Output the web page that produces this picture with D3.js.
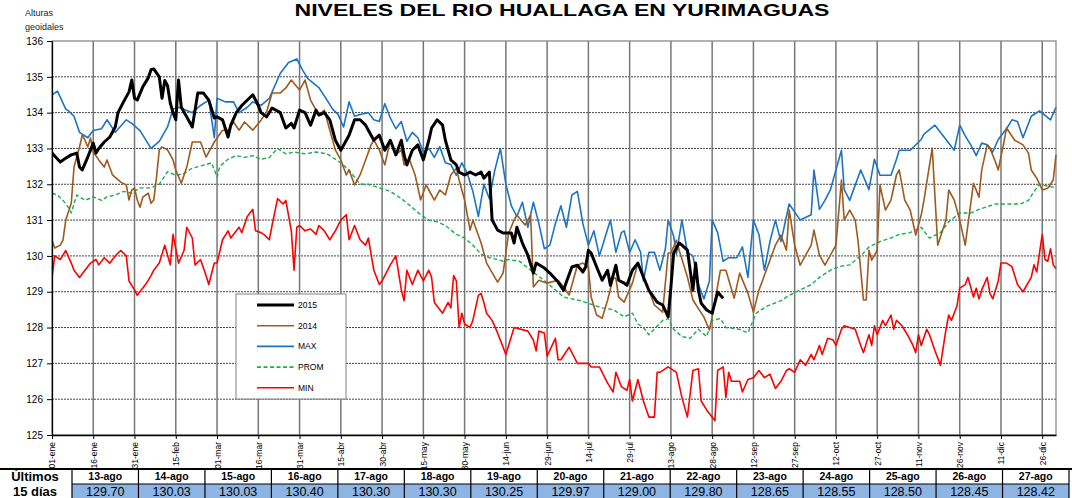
<!DOCTYPE html>
<html>
<head>
<meta charset="utf-8">
<script src="https://cdn.jsdelivr.net/npm/d3@7"></script>
<style>
body { margin: 0; background: #fff; }
svg { display: block; }
text { font-family: Arial, "Liberation Sans", sans-serif; }
</style>
</head>
<body>
<div id="chart"></div>
<script>
// x = dia del año (0 = 01-ene, año bisiesto), y = altura geoidal (m)
var tickDays = d3.range(0, 361, 15);
var tickLabels = ["01-ene","16-ene","31-ene","15-feb","01-mar","16-mar","31-mar","15-abr","30-abr","15-may",
	"30-may","14-jun","29-jun","14-jul","29-jul","13-ago","28-ago","12-sep","27-sep","12-oct","27-oct",
	"11-nov","26-nov","11-dic","26-dic"];

var serie2015 = [[0,132.87],[3,132.62],[5,132.73],[7,132.82],[9,132.87],[10,132.48],[11,132.4],[13,132.76],
	[15,133.15],[16,132.87],[17,133.0],[19,133.18],[21,133.32],[23,133.6],[24,134.0],[26,134.3],[28,134.58],
	[29,134.91],[30,134.4],[31,134.35],[33,134.72],[35,134.97],[36,135.2],[37,135.22],[39,135.0],[40,134.4],
	[41,134.9],[42,134.75],[43,134.27],[44,134.0],[45,133.8],[46,134.91],[47,134.15],[49,133.88],[51,133.6],
	[52,134.07],[53,134.55],[55,134.55],[57,134.35],[59,133.85],[60,133.88],[62,133.8],[64,133.32],[65,133.65],
	[67,134.0],[69,134.2],[73,134.5],[75,134.2],[76,134.0],[78,133.88],[80,134.13],[83,134.0],[85,133.57],
	[87,133.7],[88,133.57],[90,134.07],[92,134.0],[94,133.65],[96,134.07],[97,133.93],[99,134.0],[101,133.8],
	[103,133.23],[105,132.95],[107,133.23],[108,133.37],[110,133.8],[112,133.8],[114,133.65],[116,133.37],
	[117,133.23],[119,133.37],[121,132.95],[123,133.23],[125,132.82],[127,133.23],[128,132.82],[129,132.54],
	[131,132.95],[133,133.1],[135,132.68],[137,133.23],[138,133.57],[140,133.8],[142,133.65],[143,133.23],
	[145,132.68],[147,132.54],[148,132.34],[150,132.26],[152,132.34],[154,132.26],[156,132.34],[157,132.17],
	[159,132.34],[160,131.0],[162,130.72],[164,130.64],[167,130.64],[168,130.36],[169,130.8],[171,130.36],
	[173,130.02],[175,129.52],[176,129.8],[179,129.66],[181,129.52],[184,129.27],[186,129.04],[187,129.27],
	[189,129.69],[191,129.74],[193,129.55],[194,129.69],[195,130.16],[196,130.08],[198,129.69],[200,129.32],
	[202,129.6],[203,129.18],[205,129.74],[206,129.32],[208,129.24],[209,129.18],[211,129.6],[213,129.8],
	[215,129.41],[217,129.04],[220,128.71],[222,128.63],[224,128.3],[225,129.13],[226,130.08],[228,130.36],
	[229,130.3],[231,130.16],[233,129.04],[234,129.8],[235,129.04],[236,128.68],[238,128.49],[240,128.4],
	[242,128.99],[243,128.9],[244,128.82]];

var serie2014 = [[0,130.44],[1,130.22],[3,130.3],[4,130.44],[5,131.0],[7,131.47],[8,132.48],[9,132.76],
	[10,133.04],[11,133.37],[12,133.23],[13,133.04],[14,133.29],[15,132.9],[17,132.68],[19,132.48],[20,132.68],
	[22,132.26],[25,132.06],[27,131.98],[28,131.56],[29,131.84],[30,131.89],[31,131.56],[32,131.36],[33,131.64],
	[35,131.75],[36,131.47],[37,131.56],[38,132.2],[39,132.96],[40,133.04],[42,132.96],[44,132.68],[45,132.4],
	[47,132.03],[49,132.48],[51,133.18],[54,133.18],[56,132.76],[57,132.9],[59,133.18],[60,133.29],[62,133.51],
	[64,133.51],[66,133.74],[68,133.51],[70,133.74],[73,133.51],[76,133.79],[78,134.02],[80,134.55],[83,134.55],
	[85,134.69],[87,134.91],[90,134.63],[92,134.91],[94,134.35],[96,134.07],[97,133.93],[99,134.07],[101,133.51],
	[103,132.96],[105,132.68],[107,132.26],[108,132.4],[110,131.98],[112,132.26],[114,132.68],[116,133.1],
	[117,133.23],[119,132.96],[121,132.54],[123,133.23],[125,132.82],[127,132.96],[128,132.54],[130,132.68],
	[132,132.26],[134,131.56],[136,131.98],[137,131.84],[139,131.56],[141,131.84],[143,131.7],[145,132.26],
	[147,132.45],[148,132.12],[150,131.56],[152,130.72],[153,131.0],[156,130.36],[158,129.8],[162,129.27],
	[164,129.52],[166,130.64],[168,131.0],[169,131.14],[172,130.86],[174,131.14],[175,129.13],[177,129.32],
	[180,129.24],[184,129.32],[186,129.13],[188,128.91],[191,129.74],[193,129.8],[195,129.69],[196,128.85],
	[198,128.35],[200,128.26],[202,128.77],[204,129.38],[205,129.38],[206,128.85],[208,128.71],[211,129.24],
	[213,129.8],[215,129.41],[217,129.04],[219,128.63],[222,128.43],[224,130.08],[225,130.08],[227,130.44],
	[228,130.16],[231,129.41],[233,128.77],[237,128.29],[239,127.93],[240,128.29],[243,129.6],[245,129.6],
	[248,128.82],[250,129.52],[253,128.96],[255,128.43],[257,129.04],[259,129.46],[261,129.88],[263,130.3],
	[265,130.58],[267,130.16],[268,131.28],[270,130.3],[272,129.74],[274,130.02],[276,130.3],[277,130.72],
	[279,130.02],[281,129.74],[283,130.02],[285,130.3],[287,132.12],[288,131.0],[290,131.28],[292,131.0],
	[293,130.44],[295,128.77],[296,128.77],[297,130.16],[298,129.88],[300,130.16],[301,131.98],[303,131.28],
	[305,131.56],[307,132.26],[308,132.4],[310,131.56],[312,131.28],[314,130.58],[316,131.14],[317,131.56],
	[320,133.01],[322,130.3],[325,131.0],[326,131.84],[328,131.56],[330,131.0],[332,130.3],[335,132.03],
	[337,131.64],[338,132.4],[340,133.1],[341,133.01],[343,132.62],[344,132.4],[346,133.15],[347,133.57],
	[350,133.23],[353,133.1],[355,132.87],[356,132.4],[358,132.17],[360,131.84],[362,131.89],[364,132.12],
	[365,132.82]];

var serieMax = [[0,134.5],[2,134.6],[5,134.1],[6,134.05],[8,133.9],[10,133.45],[11,133.4],[13,133.3],[15,133.5],
	[18,133.55],[20,133.8],[23,133.45],[27,133.8],[29,133.7],[32,133.5],[36,133.0],[39,133.2],[42,133.6],
	[44,134.1],[46,134.15],[51,134.0],[54,134.2],[57,134.35],[59,133.3],[60,134.4],[63,134.3],[66,134.3],
	[68,134.0],[71,134.15],[73,134.3],[76,134.2],[79,134.4],[83,135.1],[86,135.4],[89,135.5],[91,135.2],
	[93,134.95],[97,134.7],[100,134.35],[102,134.1],[104,133.95],[106,133.6],[108,134.3],[110,133.9],
	[112,133.95],[115,134.0],[117,133.8],[119,133.75],[121,134.25],[123,133.85],[125,133.55],[127,133.75],
	[129,133.2],[131,133.45],[133,133.3],[135,132.9],[137,133.0],[139,132.75],[141,133.05],[143,132.6],
	[145,132.55],[147,132.25],[149,132.6],[151,132.3],[153,131.8],[155,131.1],[157,132.0],[159,131.6],
	[161,132.4],[163,133.0],[165,132.0],[167,131.4],[169,131.1],[171,131.5],[173,130.8],[175,131.5],
	[177,130.9],[179,130.2],[181,130.3],[183,130.9],[185,131.4],[187,130.8],[189,131.7],[191,131.8],
	[193,130.9],[195,130.3],[197,130.7],[199,130.0],[201,130.5],[203,131.0],[205,130.1],[207,130.65],
	[208,130.7],[210,130.1],[212,130.45],[214,130.1],[215,129.3],[217,130.1],[219,130.1],[221,129.6],
	[223,130.2],[224,131.0],[226,130.55],[227,130.05],[229,131.0],[231,130.1],[233,130.0],[235,129.2],
	[237,128.8],[239,129.3],[240,131.0],[242,130.65],[244,129.85],[246,129.95],[249,129.95],[251,130.25],
	[253,129.4],[255,131.0],[257,130.6],[259,129.6],[261,130.4],[263,131.0],[265,130.4],[268,131.45],
	[272,131.0],[276,131.15],[277,132.4],[279,131.3],[281,131.55],[283,131.85],[287,132.95],[288,131.85],
	[290,131.55],[294,132.4],[297,131.85],[299,132.7],[301,132.25],[305,132.25],[307,132.7],[308,132.95],
	[312,132.95],[316,133.25],[317,133.4],[321,133.65],[325,133.25],[328,132.95],[330,133.65],[332,133.35],
	[334,133.1],[336,132.8],[338,133.15],[340,133.1],[342,132.9],[344,133.25],[347,133.55],[349,133.8],
	[351,133.75],[353,133.3],[356,133.9],[359,134.05],[363,133.8],[365,134.15]];

var serieProm = [[0,131.75],[2,131.7],[4,131.55],[6,131.35],[7,131.2],[8,131.45],[9,131.7],[12,131.55],
	[15,131.65],[18,131.55],[20,131.65],[23,131.7],[26,131.8],[29,131.75],[32,131.9],[36,131.9],[39,132.0],
	[42,132.35],[45,132.25],[48,132.3],[51,132.45],[56,132.55],[58,132.6],[60,132.2],[61,132.5],[64,132.7],
	[67,132.8],[70,132.75],[73,132.8],[76,132.7],[79,132.75],[82,133.0],[85,132.85],[88,132.9],[92,132.85],
	[96,132.9],[100,132.85],[104,132.65],[108,132.4],[112,132.0],[115,132.0],[119,131.9],[123,131.8],
	[127,131.6],[131,131.35],[134,131.15],[137,131.0],[140,130.95],[143,130.85],[147,130.6],[150,130.5],
	[153,130.3],[156,130.05],[159,129.95],[162,129.9],[164,129.85],[166,129.9],[170,129.85],[174,129.6],
	[180,129.25],[186,128.85],[192,128.75],[198,128.6],[200,128.55],[204,128.5],[208,128.3],[211,128.4],
	[213,128.1],[215,128.0],[217,127.8],[222,128.2],[224,128.25],[226,127.95],[229,127.75],[232,127.7],
	[235,127.95],[238,127.75],[240,128.2],[243,128.25],[245,128.0],[250,127.95],[253,127.85],[256,128.4],
	[260,128.6],[265,128.75],[268,128.9],[272,129.05],[276,129.2],[279,129.4],[283,129.6],[286,129.7],
	[290,129.75],[294,130.0],[297,130.25],[301,130.4],[305,130.5],[308,130.6],[312,130.65],[316,130.8],
	[319,130.5],[323,130.65],[326,130.95],[330,131.2],[334,131.2],[337,131.3],[341,131.4],[343,131.45],
	[348,131.45],[352,131.45],[355,131.55],[357,131.8],[359,132.0],[362,131.95],[365,131.9]];

var serieMin = [[0,129.4],[1,130.0],[3,129.9],[5,130.15],[7,129.8],[8,129.6],[10,129.4],[12,129.6],[14,129.8],
	[16,129.9],[17,129.75],[19,129.95],[21,129.8],[23,130.0],[25,130.15],[27,130.0],[28,129.3],[30,129.05],
	[31,128.9],[34,129.2],[36,129.45],[37,129.6],[39,129.8],[41,130.3],[43,129.75],[44,130.6],[46,129.8],
	[48,130.15],[49,130.8],[51,130.5],[52,129.75],[54,129.9],[56,129.45],[57,129.2],[59,129.8],[60,129.8],
	[62,130.45],[64,130.7],[65,130.5],[67,130.7],[68,130.8],[69,130.65],[71,131.1],[73,131.3],[74,130.7],
	[76,130.65],[77,130.6],[79,130.45],[80,130.85],[82,131.6],[84,131.45],[85,131.55],[87,130.7],[88,129.6],
	[89,130.8],[90,130.85],[92,130.7],[94,130.75],[96,130.6],[97,130.85],[99,130.7],[101,130.45],[103,130.7],
	[105,131.0],[107,131.15],[108,130.45],[110,130.85],[112,130.45],[114,130.3],[115,130.5],[117,129.6],
	[119,129.2],[120,129.3],[123,129.75],[125,130.0],[127,129.05],[128,128.75],[129,129.6],[131,129.2],
	[133,129.6],[135,129.3],[137,129.6],[138,129.4],[139,128.7],[142,128.4],[144,128.7],[145,128.55],
	[146,129.45],[147,129.3],[148,128.0],[149,128.4],[150,128.1],[152,128.0],[153,128.2],[155,128.9],
	[156,128.95],[157,128.7],[158,128.4],[160,128.2],[162,127.85],[165,127.25],[168,128.0],[173,127.9],
	[175,127.65],[176,127.35],[177,127.9],[179,127.85],[180,127.2],[183,127.7],[184,127.1],[185,127.1],
	[188,127.45],[191,127.0],[195,127.0],[196,126.9],[199,126.9],[202,126.45],[204,126.2],[205,126.75],
	[207,126.35],[209,126.25],[210,126.55],[211,125.95],[213,126.55],[215,125.95],[217,125.5],[219,125.5],
	[220,126.75],[221,126.75],[224,126.9],[227,126.75],[229,126.05],[231,125.5],[233,126.8],[235,126.85],
	[236,125.95],[238,125.7],[241,125.4],[242,126.8],[244,126.9],[245,126.05],[246,126.75],[247,126.5],
	[250,126.5],[251,126.2],[253,126.55],[255,126.6],[257,126.8],[259,126.6],[261,126.7],[263,126.3],
	[265,126.5],[267,126.8],[268,126.85],[270,126.75],[272,127.1],[274,126.95],[276,127.25],[277,127.1],
	[279,127.5],[280,127.25],[282,127.7],[284,127.65],[285,127.5],[287,127.95],[288,128.05],[290,128.0],
	[292,127.95],[294,127.5],[295,127.3],[297,127.8],[298,127.5],[299,128.05],[300,127.8],[302,128.2],
	[303,128.05],[305,128.35],[306,127.95],[307,128.2],[309,128.05],[311,127.8],[313,127.5],[314,127.3],
	[315,127.8],[316,127.5],[318,127.95],[319,127.8],[321,127.35],[323,126.95],[325,127.95],[326,128.35],
	[327,128.2],[329,128.6],[330,129.1],[332,129.2],[333,129.4],[335,128.85],[336,129.1],[337,128.8],
	[338,129.05],[340,129.4],[341,128.95],[342,128.8],[344,129.3],[345,129.8],[347,129.8],[349,129.7],
	[351,129.2],[353,129.0],[356,129.4],[357,129.75],[358,129.55],[360,130.6],[361,129.9],[362,129.85],
	[363,130.2],[364,129.75],[365,129.65]];

var ultDias = ["13-ago","14-ago","15-ago","16-ago","17-ago","18-ago","19-ago","20-ago","21-ago","22-ago",
	"23-ago","24-ago","25-ago","26-ago","27-ago"];
var ultValores = [129.70, 130.03, 130.03, 130.40, 130.30, 130.30, 130.25, 129.97, 129.00, 129.80,
	128.65, 128.55, 128.50, 128.45, 128.42];

var series = [
	{name: "2015", data: serie2015, color: "#000000", width: 3, dash: null},
	{name: "2014", data: serie2014, color: "#9e5a1f", width: 1.6, dash: null},
	{name: "MAX", data: serieMax, color: "#1b74c6", width: 1.6, dash: null},
	{name: "PROM", data: serieProm, color: "#1aad4f", width: 1.4, dash: "4,2.5"},
	{name: "MIN", data: serieMin, color: "#ff0000", width: 1.6, dash: null}
];

var W = 1072, H = 498;
var plot = {left: 52, right: 1056, top: 41, bottom: 435};

var svg = d3.select("#chart").append("svg")
	.attr("width", W)
	.attr("height", H);

var x = d3.scaleLinear().domain([0, 365]).range([plot.left, plot.right]);
var y = d3.scaleLinear().domain([125, 136]).range([plot.bottom, plot.top]);

// titulo y rotulo del eje
svg.append("text")
	.attr("x", 562).attr("y", 16)
	.attr("text-anchor", "middle")
	.attr("textLength", 535)
	.attr("lengthAdjust", "spacingAndGlyphs")
	.style("font-size", "17px").style("font-weight", "bold")
	.text("NIVELES DEL RIO HUALLAGA EN YURIMAGUAS");
svg.append("text").attr("x", 25).attr("y", 16).style("font-size", "9px").attr("fill", "#222").text("Alturas");
svg.append("text").attr("x", 25).attr("y", 30).style("font-size", "9px").attr("fill", "#222").text("geoidales");

// rejilla
var grid = svg.append("g");
grid.selectAll(".hgrid")
	.data(d3.range(126, 136))
	.enter().append("line")
	.attr("x1", plot.left).attr("x2", plot.right)
	.attr("y1", function(d) { return y(d); })
	.attr("y2", function(d) { return y(d); })
	.attr("stroke", "#444")
	.attr("stroke-width", 1)
	.attr("stroke-dasharray", "2,1");
grid.selectAll(".vgrid")
	.data(tickDays.slice(1))
	.enter().append("line")
	.attr("x1", function(d) { return x(d); })
	.attr("x2", function(d) { return x(d); })
	.attr("y1", plot.top).attr("y2", plot.bottom)
	.attr("stroke", "#777")
	.attr("stroke-width", 1.5);
svg.append("rect")
	.attr("x", plot.left).attr("y", plot.top)
	.attr("width", plot.right - plot.left).attr("height", plot.bottom - plot.top)
	.attr("fill", "none").attr("stroke", "#808080").attr("stroke-width", 1.2);

// series
svg.append("clipPath").attr("id", "clip")
	.append("rect")
	.attr("x", plot.left).attr("y", plot.top - 2)
	.attr("width", plot.right - plot.left + 2).attr("height", plot.bottom - plot.top + 4);

var line = d3.line()
	.x(function(d) { return x(d[0]); })
	.y(function(d) { return y(d[1]); });

var lines = svg.append("g").attr("clip-path", "url(#clip)");
// dibujar de abajo hacia arriba: MIN, PROM, MAX, 2014, 2015
[4, 3, 2, 1, 0].forEach(function(i) {
	var s = series[i];
	lines.append("path")
		.datum(s.data)
		.attr("d", line)
		.attr("fill", "none")
		.attr("stroke", s.color)
		.attr("stroke-width", s.width)
		.attr("stroke-linejoin", "round")
		.attr("stroke-dasharray", s.dash);
});

// ejes
var yAxis = d3.axisLeft(y).tickValues(d3.range(125, 137)).tickSize(5).tickSizeOuter(0).tickFormat(d3.format("d"));
var gy = svg.append("g").attr("transform", "translate(" + plot.left + ",0)").call(yAxis);
gy.select(".domain").attr("stroke", "#000").attr("stroke-width", 1.3);
gy.selectAll(".tick line").attr("stroke", "#000");
gy.selectAll("text").style("font-size", "10px").attr("x", -9).attr("fill", "#000");

var xAxis = d3.axisBottom(x).tickValues(tickDays).tickSize(4).tickSizeOuter(0)
	.tickFormat(function(d, i) { return tickLabels[i]; });
var gx = svg.append("g").attr("transform", "translate(0," + plot.bottom + ")").call(xAxis);
gx.select(".domain").attr("stroke", "#000").attr("stroke-width", 1.3);
gx.selectAll(".tick line").attr("stroke", "#000");
gx.selectAll("text")
	.style("font-size", "8.5px")
	.attr("fill", "#000")
	.attr("text-anchor", "end")
	.attr("transform", "rotate(-90)")
	.attr("x", -7).attr("y", 0).attr("dy", "0.35em");

// leyenda
var legend = svg.append("g").attr("transform", "translate(236,294)");
legend.append("rect")
	.attr("width", 110).attr("height", 105)
	.attr("fill", "#fff").attr("stroke", "#808080").attr("stroke-width", 1);
var item = legend.selectAll(".item")
	.data(series)
	.enter().append("g")
	.attr("transform", function(d, i) { return "translate(0," + (11 + i * 20.7) + ")"; });
item.append("line")
	.attr("x1", 21).attr("x2", 58)
	.attr("stroke", function(d) { return d.color; })
	.attr("stroke-width", function(d) { return d.width === 3 ? 3 : 1.6; })
	.attr("stroke-dasharray", function(d) { return d.dash; });
item.append("text")
	.attr("x", 62).attr("dy", "0.35em")
	.style("font-size", "8.5px")
	.text(function(d) { return d.name; });

// tabla de los ultimos 15 dias
var tTop = 469, tMid = 484, tBot = 499;
var col = d3.scaleBand().domain(ultDias).range([72, 1069]);
var tabla = svg.append("g");
tabla.selectAll(".val")
	.data(ultDias)
	.enter().append("rect")
	.attr("x", function(d) { return col(d); })
	.attr("y", tMid)
	.attr("width", col.bandwidth())
	.attr("height", tBot - tMid)
	.attr("fill", "#8db4e2");
tabla.selectAll(".vline")
	.data(ultDias.concat(["fin"]))
	.enter().append("line")
	.attr("x1", function(d) { return d === "fin" ? 1069 : col(d); })
	.attr("x2", function(d) { return d === "fin" ? 1069 : col(d); })
	.attr("y1", tTop).attr("y2", tBot)
	.attr("stroke", "#000").attr("stroke-width", 1.2);
tabla.append("line").attr("x1", 0).attr("x2", W).attr("y1", tTop).attr("y2", tTop)
	.attr("stroke", "#000").attr("stroke-width", 2);
tabla.append("line").attr("x1", 72).attr("x2", 1069).attr("y1", tMid).attr("y2", tMid)
	.attr("stroke", "#000").attr("stroke-width", 1.2);
tabla.append("text").attr("x", 35).attr("y", tMid - 3).attr("text-anchor", "middle")
	.style("font-size", "13px").style("font-weight", "bold").text("Últimos");
tabla.append("text").attr("x", 35).attr("y", tBot - 3).attr("text-anchor", "middle")
	.style("font-size", "13px").style("font-weight", "bold").text("15 días");
tabla.selectAll(".dia")
	.data(ultDias)
	.enter().append("text")
	.attr("x", function(d) { return col(d) + col.bandwidth() / 2; })
	.attr("y", tMid - 4)
	.attr("text-anchor", "middle")
	.style("font-size", "10.5px").style("font-weight", "bold")
	.text(function(d) { return d; });
tabla.selectAll(".valor")
	.data(ultValores)
	.enter().append("text")
	.attr("x", function(d, i) { return col(ultDias[i]) + col.bandwidth() / 2; })
	.attr("y", tBot - 3)
	.attr("text-anchor", "middle")
	.style("font-size", "12.5px")
	.text(function(d) { return d.toFixed(2); });
</script>
</body>
</html>
